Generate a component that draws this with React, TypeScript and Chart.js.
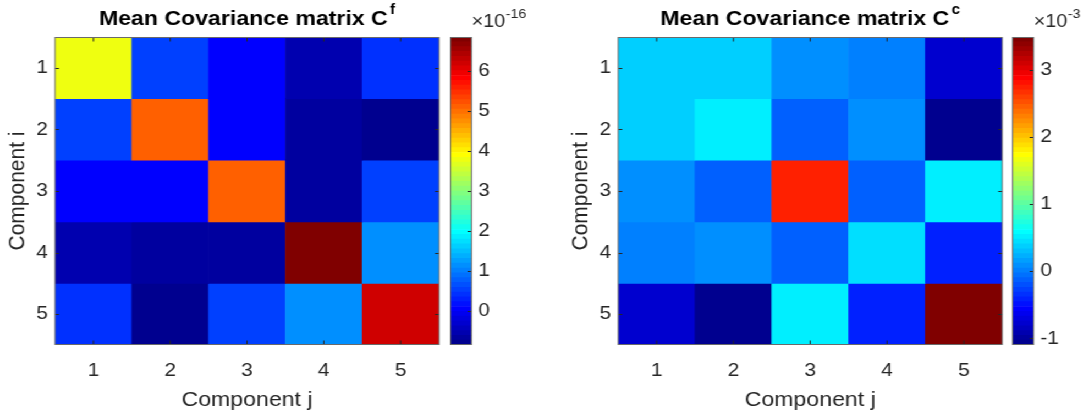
import React, { useEffect, useRef } from 'react';
import { Chart, registerables } from 'chart.js';

Chart.register(...registerables);

// ---------------- data ----------------
const COMPONENT_LABELS = ['1', '2', '3', '4', '5'];
const COMPONENT_INDEX = [1, 2, 3, 4, 5];

// Mean covariance matrix C^f (x 1e-16), row i, columns j = 1..5
const CF_ROW_1 = [3.77, 0.52, 0.04, -0.56, 0.40];
const CF_ROW_2 = [0.52, 5.10, 0.04, -0.68, -0.86];
const CF_ROW_3 = [0.04, 0.04, 5.08, -0.68, 0.52];
const CF_ROW_4 = [-0.56, -0.68, -0.68, 6.84, 1.12];
const CF_ROW_5 = [0.40, -0.86, 0.52, 1.12, 6.18];

// Mean covariance matrix C^c (x 1e-3)
const CC_ROW_1 = [0.37, 0.37, 0.08, 0.0, -0.78];
const CC_ROW_2 = [0.37, 0.51, -0.13, 0.08, -1.10];
const CC_ROW_3 = [0.08, -0.13, 2.74, -0.13, 0.51];
const CC_ROW_4 = [0.0, 0.08, -0.13, 0.44, -0.42];
const CC_ROW_5 = [-0.78, -1.10, 0.51, -0.42, 3.49];

const CF_ROWS = [CF_ROW_1, CF_ROW_2, CF_ROW_3, CF_ROW_4, CF_ROW_5];
const CC_ROWS = [CC_ROW_1, CC_ROW_2, CC_ROW_3, CC_ROW_4, CC_ROW_5];

const CF_COLORBAR_TICKS = [0, 1, 2, 3, 4, 5, 6];
const CC_COLORBAR_TICKS = [-1, 0, 1, 2, 3];

const CF_TITLE = 'Mean Covariance matrix C';
const CF_TITLE_SUP = 'f';
const CC_TITLE = 'Mean Covariance matrix C';
const CC_TITLE_SUP = 'c';
const EXPONENT_BASE = '\u00d710';
const CF_EXPONENT = '-16';
const CC_EXPONENT = '-3';
const X_LABEL = 'Component j';
const Y_LABEL = 'Component i';

// ---------------- layout / style ----------------
const S = 1.1; // horizontal stretch of the whole figure
const W = 1089;
const H = 414;
const PLOT_L = 55;
const PLOT_R = 439;
const PLOT_T = 37;
const PLOT_B = 345;
const CB_L = 450;
const CB_R = 471;
const PANEL_DX = 563;
const HEAT_W = Math.round(445 / S);
const CB_W = Math.round(100 / S);
const FONT = '"Liberation Sans", Arial, Helvetica, sans-serif';
const TEXT = '#262626';
const FRAME = '#6a6a6a';
const TICK_SIZE = 19;
const LABEL_SIZE = 21;
const TITLE_SIZE = 21;

// MATLAB jet(64)
const JET_LEVELS = 64;
function jetRamp(i: number) {
  if (i < 1 || i > 47) return 0;
  if (i <= 16) return i / 16;
  if (i <= 31) return 1;
  return (48 - i) / 16;
}
function jetColor(k: number) {
  const c = (v: number) => Math.round(v * 255);
  return `rgb(${c(jetRamp(k - 24))},${c(jetRamp(k - 8))},${c(jetRamp(k + 8))})`;
}
function levelOf(v: number, lo: number, hi: number) {
  const k = Math.floor(((v - lo) / (hi - lo)) * JET_LEVELS) + 1;
  return Math.min(JET_LEVELS, Math.max(1, k));
}

const framePlugin = {
  id: 'axesFrame',
  afterDatasetsDraw(chart: any, _args: any, opts: any) {
    const { ctx, chartArea: a } = chart;
    const xs = chart.scales.x;
    const ys = chart.scales.y;
    const top = Math.round(a.top) + 0.5;
    const bottom = Math.round(a.bottom) - 0.5;
    ctx.save();
    ctx.lineWidth = 1;
    ctx.strokeStyle = TEXT;
    ctx.beginPath();
    if (opts.xMarks && xs) {
      xs.ticks.forEach((_t: any, i: number) => {
        const p = xs.getPixelForTick(i);
        ctx.moveTo(p, bottom);
        ctx.lineTo(p, bottom - opts.len);
        ctx.moveTo(p, top);
        ctx.lineTo(p, top + opts.len);
      });
    }
    if (ys) {
      ys.ticks.forEach((t: any) => {
        const p = Math.round(ys.getPixelForValue(t.value)) + 0.5;
        if (opts.leftMarks) {
          ctx.moveTo(a.left, p);
          ctx.lineTo(a.left + opts.len / S, p);
        }
        if (opts.rightMarks) {
          ctx.moveTo(a.right, p);
          ctx.lineTo(a.right - opts.len / S, p);
        }
      });
    }
    ctx.stroke();
    ctx.strokeStyle = FRAME;
    ctx.strokeRect(a.left, top, a.right - a.left, bottom - top);
    ctx.restore();
  },
};

const supTitlePlugin = {
  id: 'supTitle',
  afterDraw(chart: any, _args: any, o: any) {
    const { ctx, chartArea: a } = chart;
    ctx.save();
    ctx.fillStyle = '#000';
    ctx.textAlign = 'left';
    ctx.textBaseline = 'alphabetic';
    ctx.font = `bold ${o.size}px ${FONT}`;
    const w1 = ctx.measureText(o.text).width;
    ctx.font = `bold ${o.supSize}px ${FONT}`;
    const w2 = ctx.measureText(o.sup).width;
    const x = (a.left + a.right) / 2 - (w1 + o.gap + w2) / 2;
    ctx.font = `bold ${o.size}px ${FONT}`;
    ctx.fillText(o.text, x, o.baseline);
    ctx.font = `bold ${o.supSize}px ${FONT}`;
    ctx.fillText(o.sup, x + w1 + o.gap, o.supBaseline);
    ctx.restore();
  },
};

const exponentPlugin = {
  id: 'cbExponent',
  afterDraw(chart: any, _args: any, o: any) {
    const { ctx, chartArea: a } = chart;
    ctx.save();
    ctx.fillStyle = TEXT;
    ctx.textAlign = 'left';
    ctx.textBaseline = 'alphabetic';
    ctx.font = `${o.size}px ${FONT}`;
    const x0 = a.left + o.dx;
    ctx.fillText(EXPONENT_BASE, x0, o.baseline);
    const w = ctx.measureText(EXPONENT_BASE).width;
    ctx.font = `${o.supSize}px ${FONT}`;
    ctx.fillText(o.exp, x0 + w + 0.5, o.supBaseline);
    ctx.restore();
  },
};

function heatmapConfig(rows: number[][], title: string, sup: string): any {
  const all = rows.flat();
  const lo = Math.min(...all);
  const hi = Math.max(...all);
  const datasets = rows.map((row, ri) => ({
    data: row.map(() => [COMPONENT_INDEX[ri] - 0.5, COMPONENT_INDEX[ri] + 0.5]),
    backgroundColor: row.map((v) => jetColor(levelOf(v, lo, hi))),
    borderWidth: 0,
    barPercentage: 1,
    categoryPercentage: 1,
    grouped: false,
  }));
  return {
    type: 'bar',
    data: { labels: COMPONENT_LABELS, datasets },
    plugins: [framePlugin, supTitlePlugin],
    options: {
      animation: false,
      responsive: false,
      devicePixelRatio: 1,
      events: [],
      layout: { padding: { top: PLOT_T, left: 0, bottom: 0, right: HEAT_W - PLOT_R / S } },
      plugins: {
        legend: { display: false },
        tooltip: { enabled: false },
        title: { display: false },
        axesFrame: { xMarks: true, leftMarks: true, rightMarks: true, len: 4 },
        supTitle: { text: title, sup, size: TITLE_SIZE, supSize: 14, gap: 2, baseline: 25, supBaseline: 14 },
      },
      scales: {
        x: {
          type: 'category',
          offset: true,
          grid: { display: false, drawTicks: false },
          border: { display: false },
          ticks: { color: TEXT, font: { family: FONT, size: TICK_SIZE }, padding: 14.6, maxRotation: 0, autoSkip: false },
          title: { display: true, text: X_LABEL, color: TEXT, font: { family: FONT, size: LABEL_SIZE }, padding: { top: 0, bottom: 1.5 } },
          afterFit: (s: any) => {
            s.height = H - PLOT_B;
          },
        },
        y: {
          type: 'linear',
          min: 0.5,
          max: 5.5,
          reverse: true,
          grid: { display: false, drawTicks: false },
          border: { display: false },
          afterBuildTicks: (s: any) => {
            s.ticks = COMPONENT_INDEX.map((v) => ({ value: v }));
          },
          ticks: { color: TEXT, font: { family: FONT, size: TICK_SIZE }, padding: 6.5 },
          title: { display: true, text: Y_LABEL, color: TEXT, font: { family: FONT, size: LABEL_SIZE }, padding: { top: 3.3, bottom: 0 } },
          afterFit: (s: any) => {
            s.width = PLOT_L / S;
          },
        },
      },
    },
  };
}

function colorbarConfig(rows: number[][], ticks: number[], exp: string): any {
  const all = rows.flat();
  const lo = Math.min(...all);
  const hi = Math.max(...all);
  const step = (hi - lo) / JET_LEVELS;
  const datasets = Array.from({ length: JET_LEVELS }, (_, i) => ({
    data: [[lo + i * step, lo + (i + 1) * step]],
    backgroundColor: jetColor(i + 1),
    borderWidth: 0,
    barPercentage: 1,
    categoryPercentage: 1,
    grouped: false,
  }));
  const padL = (CB_L - 445) / S;
  return {
    type: 'bar',
    data: { labels: [''], datasets },
    plugins: [framePlugin, exponentPlugin],
    options: {
      animation: false,
      responsive: false,
      devicePixelRatio: 1,
      events: [],
      layout: { padding: { top: PLOT_T, left: padL, bottom: H - PLOT_B, right: 0 } },
      plugins: {
        legend: { display: false },
        tooltip: { enabled: false },
        title: { display: false },
        axesFrame: { xMarks: false, leftMarks: false, rightMarks: true, len: 4 },
        cbExponent: { exp, size: 18, supSize: 13, dx: 21 / S, baseline: 27, supBaseline: 18 },
      },
      scales: {
        x: { type: 'category', display: false, offset: true },
        y: {
          type: 'linear',
          position: 'right',
          min: lo,
          max: hi,
          grid: { display: false, drawTicks: false },
          border: { display: false },
          afterBuildTicks: (s: any) => {
            s.ticks = ticks.map((v) => ({ value: v }));
          },
          ticks: { color: TEXT, font: { family: FONT, size: TICK_SIZE }, padding: 6 },
          afterFit: (s: any) => {
            s.width = CB_W - padL - (CB_R - CB_L) / S;
          },
        },
      },
    },
  };
}

export default function App() {
  const heatL = useRef<HTMLCanvasElement>(null);
  const cbL = useRef<HTMLCanvasElement>(null);
  const heatR = useRef<HTMLCanvasElement>(null);
  const cbR = useRef<HTMLCanvasElement>(null);

  useEffect(() => {
    const charts = [
      new Chart(heatL.current as HTMLCanvasElement, heatmapConfig(CF_ROWS, CF_TITLE, CF_TITLE_SUP)),
      new Chart(cbL.current as HTMLCanvasElement, colorbarConfig(CF_ROWS, CF_COLORBAR_TICKS, CF_EXPONENT)),
      new Chart(heatR.current as HTMLCanvasElement, heatmapConfig(CC_ROWS, CC_TITLE, CC_TITLE_SUP)),
      new Chart(cbR.current as HTMLCanvasElement, colorbarConfig(CC_ROWS, CC_COLORBAR_TICKS, CC_EXPONENT)),
    ];
    return () => charts.forEach((c) => c.destroy());
  }, []);

  const canvasStyle = (leftRef: number, w: number): React.CSSProperties => ({
    position: 'absolute',
    left: leftRef / S,
    top: 0,
    width: w,
    height: H,
  });

  return (
    <div
      style={{
        position: 'absolute',
        left: 0,
        top: 0,
        width: W / S,
        height: H,
        overflow: 'hidden',
        background: '#fff',
        transform: `scaleX(${S})`,
        transformOrigin: '0 0',
      }}
    >
      <canvas ref={heatL} width={HEAT_W} height={H} style={canvasStyle(0, HEAT_W)} />
      <canvas ref={cbL} width={CB_W} height={H} style={canvasStyle(445, CB_W)} />
      <canvas ref={heatR} width={HEAT_W} height={H} style={canvasStyle(PANEL_DX, HEAT_W)} />
      <canvas ref={cbR} width={CB_W} height={H} style={canvasStyle(PANEL_DX + 445, CB_W)} />
    </div>
  );
}
